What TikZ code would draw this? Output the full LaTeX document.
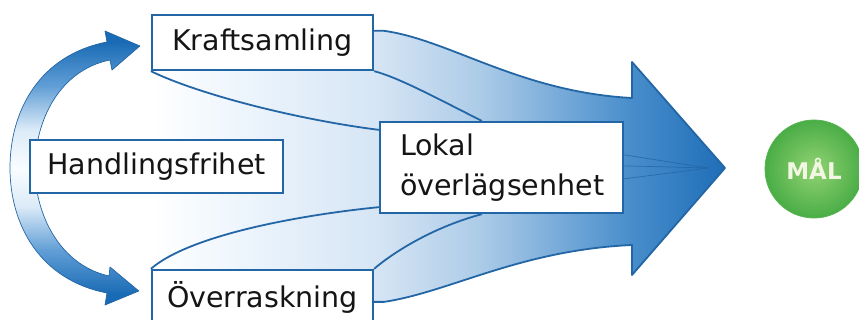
\documentclass[tikz,border=0pt]{standalone}
\usepackage{fontspec}
\setmainfont{DejaVu Sans}
\usetikzlibrary{calc}

\definecolor{frame}{HTML}{2366A5}
\definecolor{ink}{HTML}{151515}
\definecolor{malin}{HTML}{92D373}
\definecolor{malout}{HTML}{4AAD46}
\definecolor{malrim}{HTML}{58B553}
\definecolor{maltext}{HTML}{F1F7E2}

% light-to-blue flow towards the goal
\pgfdeclarehorizontalshading{flowshade}{100bp}{%
  rgb(0bp)=(1,1,1); rgb(25bp)=(1,1,1); rgb(33bp)=(0.93,0.96,0.99);
  rgb(44.5bp)=(0.84,0.90,0.96); rgb(53.5bp)=(0.68,0.80,0.91);
  rgb(66.5bp)=(0.29,0.56,0.80); rgb(75bp)=(0.12,0.43,0.72);
  rgb(100bp)=(0.12,0.43,0.72)}
% double arrow: dark at both heads, pale in the middle
\pgfdeclareverticalshading{arcshade}{100bp}{%
  rgb(0bp)=(0.10,0.42,0.71); rgb(27bp)=(0.10,0.42,0.71);
  rgb(35bp)=(0.38,0.62,0.84); rgb(43bp)=(0.86,0.92,0.97);
  rgb(50bp)=(0.98,0.99,1); rgb(57bp)=(0.86,0.92,0.97);
  rgb(65bp)=(0.38,0.62,0.84); rgb(73bp)=(0.10,0.42,0.71);
  rgb(100bp)=(0.10,0.42,0.71)}

\pgfdeclarelayer{back}
\pgfdeclarelayer{mid}
\pgfsetlayers{back,mid,main}

\begin{document}
\begin{tikzpicture}[x=1pt,y=-1pt,
  box/.style={draw=frame, line width=2.3pt, fill=white, inner sep=0pt,
    font=\fontsize{28.5}{40}\selectfont, text=ink},
  edge/.style={draw=frame, line width=1.8pt},
  fine/.style={draw=frame, line width=0.7pt, opacity=0.85}]
\useasboundingbox (0,0) rectangle (859,320);

% boxes
\node[box, minimum width=221pt, minimum height=55pt] (kraft) at (262.5,42.5) {Kraftsamling};
\node[box, minimum width=253pt, minimum height=53pt] (hand) at (156.5,166.5) {Handlingsfrihet};
\node[box, minimum width=243pt, minimum height=91pt, inner xsep=20pt,
      text width=203pt, align=left] (lokal) at (501.5,167.5) {Lokal\\överlägsenhet};
\node[box, minimum width=221pt, minimum height=54pt] (over) at (262.5,297) {Överraskning};

% goal
\node[circle, minimum size=98pt, inner sep=0pt, shade, inner color=malin,
      outer color=malout, draw=malrim, line width=0.8pt, text=maltext,
      font=\bfseries\fontsize{23}{23}\selectfont] (mal) at (814,169) {MÅL};

% key points of the big arrow
\coordinate (ktop) at ($(kraft.north east)+(0,17)$);
\coordinate (obot) at ($(over.north east)+(0,33)$);
\coordinate (su) at (632,98);
\coordinate (hu) at (632,62);
\coordinate (tip) at (725,168);
\coordinate (hd) at (632,275);
\coordinate (sd) at (632,245);
\coordinate (focus) at (708,168);

% filled flow
\begin{pgfonlayer}{back}
\shade[shading=flowshade] (kraft.south west) -- (ktop) -- ++(10,0)
  .. controls (450,40) and (520,92) .. (su) -- (hu) -- (tip) -- (hd) -- (sd)
  .. controls (520,250) and (450,292) .. ($(obot)+(10,0)$) -- (obot)
  -- (over.north west) -- cycle;
\end{pgfonlayer}

\begin{pgfonlayer}{mid}
% outline of the big arrow
\draw[edge, line join=round] (ktop) -- ++(10,0)
  .. controls (450,40) and (520,92) .. (su) -- (hu) -- (tip) -- (hd) -- (sd)
  .. controls (520,250) and (450,292) .. ($(obot)+(10,0)$) -- (obot);
% inner strands
\draw[edge] (kraft.south west) .. controls (200,95) and (300,120) .. ($(lokal.north west)+(0,9)$);
\draw[edge] (kraft.south east) .. controls (400,78) and (440,100) .. ($(lokal.north west)+(103,0)$);
\draw[edge] (over.north west) .. controls (190,235) and (300,215) .. ($(lokal.south west)+(0,-7)$);
\draw[edge] ($(lokal.south west)+(103,0)$) .. controls (430,228) and (390,255) .. (over.north east);
\foreach \d in {34,45,58}
  \draw[fine] ($(lokal.north east)+(0,\d)$) -- (focus);

% curved double arrow between the two outer boxes
\shadedraw[shading=arcshade, draw=frame, line width=0.7pt, line join=round]
  ($(kraft.west)+(-11,3.5)$) -- (112,70) -- (110,60)
  .. controls (60,70) and (35,120) .. (35,168)
  .. controls (35,215) and (60,265) .. (109,276) -- (110,267)
  -- ($(over.west)+(-12,-6)$) -- (105,305) -- (107,293)
  .. controls (40,280) and (10,225) .. (10,168)
  .. controls (10,110) and (40,55) .. (107,42) -- (105,31) -- cycle;
\end{pgfonlayer}
\end{tikzpicture}
\end{document}
